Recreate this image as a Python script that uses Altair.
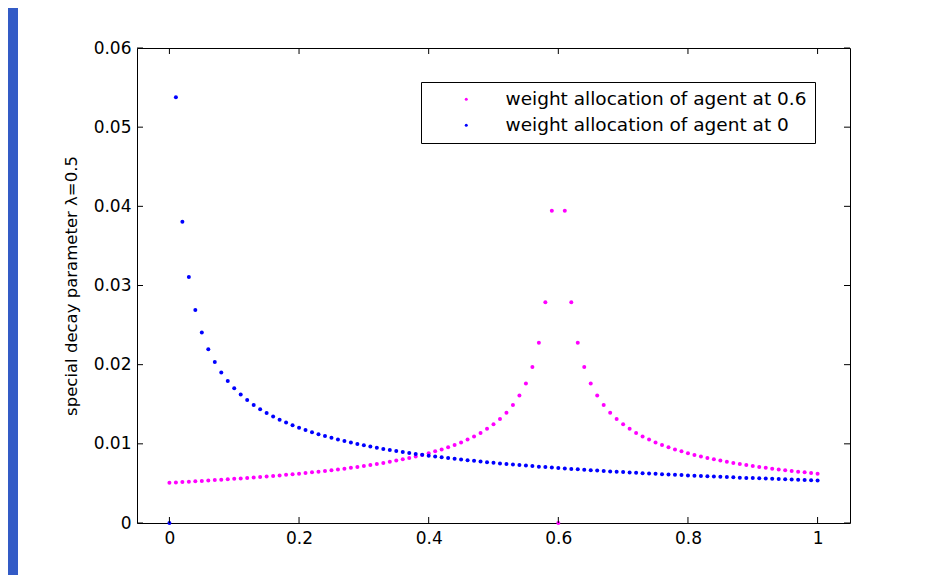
import altair as alt
import pandas as pd

x_grid = [0.0, 0.01, 0.02, 0.03, 0.04, 0.05, 0.06, 0.07, 0.08, 0.09,
          0.1, 0.11, 0.12, 0.13, 0.14, 0.15, 0.16, 0.17, 0.18, 0.19,
          0.2, 0.21, 0.22, 0.23, 0.24, 0.25, 0.26, 0.27, 0.28, 0.29,
          0.3, 0.31, 0.32, 0.33, 0.34, 0.35, 0.36, 0.37, 0.38, 0.39,
          0.4, 0.41, 0.42, 0.43, 0.44, 0.45, 0.46, 0.47, 0.48, 0.49,
          0.5, 0.51, 0.52, 0.53, 0.54, 0.55, 0.56, 0.57, 0.58, 0.59,
          0.6, 0.61, 0.62, 0.63, 0.64, 0.65, 0.66, 0.67, 0.68, 0.69,
          0.7, 0.71, 0.72, 0.73, 0.74, 0.75, 0.76, 0.77, 0.78, 0.79,
          0.8, 0.81, 0.82, 0.83, 0.84, 0.85, 0.86, 0.87, 0.88, 0.89,
          0.9, 0.91, 0.92, 0.93, 0.94, 0.95, 0.96, 0.97, 0.98, 0.99,
          1.0]

weight_agent_06 = [0.00509, 0.00513, 0.00518, 0.00522, 0.00527, 0.00532, 0.00537, 0.00542, 0.00547, 0.00552,
                   0.00558, 0.00563, 0.00569, 0.00575, 0.00581, 0.00588, 0.00594, 0.00601, 0.00608, 0.00616,
                   0.00623, 0.00631, 0.00640, 0.00648, 0.00657, 0.00666, 0.00676, 0.00686, 0.00697, 0.00708,
                   0.00720, 0.00732, 0.00745, 0.00759, 0.00773, 0.00789, 0.00805, 0.00822, 0.00841, 0.00860,
                   0.00882, 0.00905, 0.00929, 0.00956, 0.00986, 0.01018, 0.01054, 0.01093, 0.01138, 0.01189,
                   0.01247, 0.01314, 0.01394, 0.01490, 0.01610, 0.01763, 0.01971, 0.02276, 0.02788, 0.03943,
                   0.0,
                   0.03943, 0.02788, 0.02276, 0.01971, 0.01763, 0.01610, 0.01490, 0.01394, 0.01314, 0.01247,
                   0.01189, 0.01138, 0.01093, 0.01054, 0.01018, 0.00986, 0.00956, 0.00929, 0.00905, 0.00882,
                   0.00860, 0.00841, 0.00822, 0.00805, 0.00789, 0.00773, 0.00759, 0.00745, 0.00732, 0.00720,
                   0.00708, 0.00697, 0.00686, 0.00676, 0.00666, 0.00657, 0.00648, 0.00640, 0.00631, 0.00623]

weight_agent_0 = [0.0,
                  0.05379, 0.03804, 0.03106, 0.02690, 0.02406, 0.02196, 0.02033, 0.01902, 0.01793, 0.01701,
                  0.01622, 0.01553, 0.01492, 0.01438, 0.01389, 0.01345, 0.01305, 0.01268, 0.01234, 0.01203,
                  0.01174, 0.01147, 0.01122, 0.01098, 0.01076, 0.01055, 0.01035, 0.01017, 0.00999, 0.00982,
                  0.00966, 0.00951, 0.00936, 0.00922, 0.00909, 0.00897, 0.00884, 0.00873, 0.00861, 0.00850,
                  0.00840, 0.00830, 0.00820, 0.00811, 0.00802, 0.00793, 0.00785, 0.00776, 0.00768, 0.00761,
                  0.00753, 0.00746, 0.00739, 0.00732, 0.00725, 0.00719, 0.00712, 0.00706, 0.00700, 0.00694,
                  0.00689, 0.00683, 0.00678, 0.00672, 0.00667, 0.00662, 0.00657, 0.00652, 0.00648, 0.00643,
                  0.00638, 0.00634, 0.00630, 0.00625, 0.00621, 0.00617, 0.00613, 0.00609, 0.00605, 0.00601,
                  0.00598, 0.00594, 0.00590, 0.00587, 0.00583, 0.00580, 0.00577, 0.00573, 0.00570, 0.00567,
                  0.00564, 0.00561, 0.00558, 0.00555, 0.00552, 0.00549, 0.00546, 0.00543, 0.00541, 0.00538]

series_names = ["weight allocation of agent at 0.6", "weight allocation of agent at 0"]
series_colors = ["#ff00ff", "#0000ff"]
x_ticks = [0, 0.2, 0.4, 0.6, 0.8, 1]
y_ticks = [0, 0.01, 0.02, 0.03, 0.04, 0.05, 0.06]
y_title = "special decay parameter λ=0.5"

rows = []
for name, vals in zip(series_names, [weight_agent_06, weight_agent_0]):
    for xv, yv in zip(x_grid, vals):
        rows.append({"x": xv, "y": yv, "series": name})
df = pd.DataFrame(rows)

W, H = 713, 475
FONT = "DejaVu Sans"

xscale = alt.Scale(domain=[-0.05, 1.05], nice=False, zero=False)
yscale = alt.Scale(domain=[0, 0.06], nice=False, zero=False)

x_axis = alt.Axis(values=x_ticks, format="~g", title=None, ticks=False, tickSize=0,
                  domain=False, grid=False, labelPadding=7, labelFontSize=17,
                  labelFont=FONT, labelColor="black")
y_axis = alt.Axis(values=y_ticks, format="~g", title=y_title, ticks=False, tickSize=0,
                  domain=False, grid=False, labelPadding=6, labelFontSize=17,
                  labelFont=FONT, labelColor="black", titleFont=FONT, titleFontSize=16.5,
                  titleFontWeight="normal", titleColor="black", titlePadding=14)

points = alt.Chart(df).mark_circle(size=16, opacity=1).encode(
    x=alt.X("x:Q", scale=xscale, axis=x_axis),
    y=alt.Y("y:Q", scale=yscale, axis=y_axis),
    color=alt.Color(
        "series:N",
        scale=alt.Scale(domain=series_names, range=series_colors),
        legend=alt.Legend(
            title=None, orient="none", legendX=284, legendY=34,
            strokeColor="black", fillColor="white", cornerRadius=0,
            padding=8, symbolOffset=28, labelOffset=30, labelFontSize=18.5,
            labelFont=FONT, labelColor="black", symbolSize=9, symbolType="circle",
            symbolStrokeWidth=0, rowPadding=7, labelLimit=500,
        ),
    ),
)

xt_df = pd.DataFrame({"x": x_ticks})
yt_df = pd.DataFrame({"y": y_ticks})

xt_bottom = alt.Chart(xt_df).mark_rule(color="black", strokeWidth=1).encode(
    x=alt.X("x:Q", scale=xscale, axis=x_axis), y=alt.value(H), y2=alt.value(H - 6))
xt_top = alt.Chart(xt_df).mark_rule(color="black", strokeWidth=1).encode(
    x=alt.X("x:Q", scale=xscale, axis=x_axis), y=alt.value(0), y2=alt.value(6))
yt_left = alt.Chart(yt_df).mark_rule(color="black", strokeWidth=1).encode(
    y=alt.Y("y:Q", scale=yscale, axis=y_axis), x=alt.value(0), x2=alt.value(6))
yt_right = alt.Chart(yt_df).mark_rule(color="black", strokeWidth=1).encode(
    y=alt.Y("y:Q", scale=yscale, axis=y_axis), x=alt.value(W), x2=alt.value(W - 6))

band = alt.Chart(pd.DataFrame({"a": [0]})).mark_rect(color="#335bc6").encode(
    x=alt.value(-129), x2=alt.value(-119), y=alt.value(-40), y2=alt.value(H + 52))

chart = alt.layer(band, points, xt_bottom, xt_top, yt_left, yt_right).properties(
    width=W, height=H,
    autosize="none",
    padding={"left": 129, "top": 40, "right": 76, "bottom": 52},
    background="white",
).configure_view(stroke="black", strokeWidth=1)

chart.save("out.html", embed_options={"renderer": "svg", "actions": False})
